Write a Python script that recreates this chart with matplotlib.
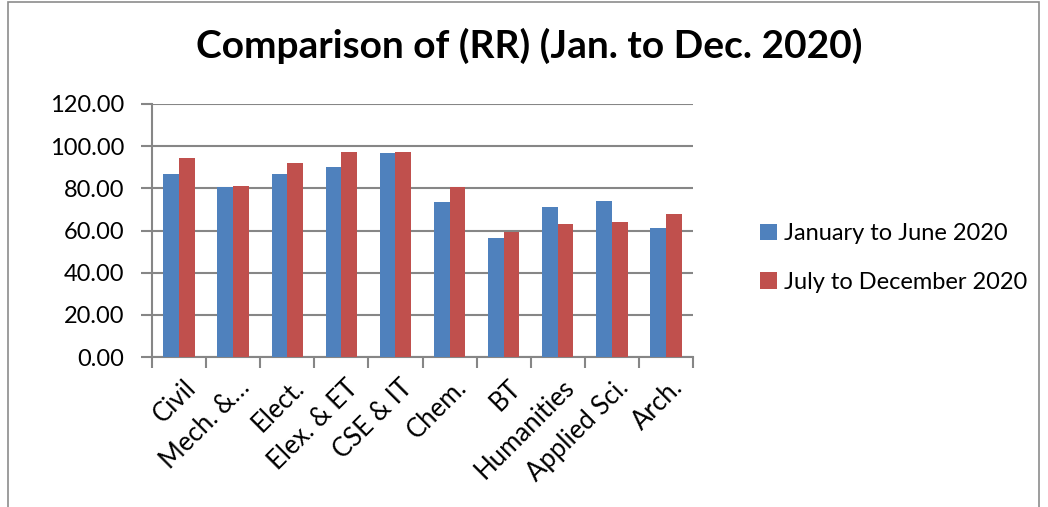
import numpy as np
import matplotlib
matplotlib.use('Agg')
import matplotlib.pyplot as plt
from matplotlib.patches import Patch, Rectangle
import matplotlib.ticker as ticker
import matplotlib.transforms as mtransforms

plt.rcParams['font.family'] = ['Lato', 'DejaVu Sans']

# Data
categories = ['Civil', 'Mech. &…', 'Elect.', 'Elex. & ET', 'CSE & IT',
              'Chem.', 'BT', 'Humanities', 'Applied Sci.', 'Arch.']
jan_jun = [87.0, 80.6, 87.0, 90.3, 96.8, 73.3, 56.5, 71.3, 74.0, 61.1]
jul_dec = [94.6, 81.1, 92.1, 97.3, 97.3, 80.6, 59.4, 62.9, 64.1, 67.6]
series_names = ['January to June 2020', 'July to December 2020']

blue = '#4F81BD'
red = '#C0504D'
grid_c = '#868686'

W, H = 1048, 507
fig = plt.figure(figsize=(W / 100, H / 100), dpi=100)

# outer chart frame
fig.patches.append(Rectangle((8 / W, -0.02), (1039 - 8) / W, 1 - 2 / H + 0.02,
                             transform=fig.transFigure, fill=False,
                             edgecolor='#8c8c8c', lw=1.2))

ax = fig.add_axes([152 / W, 1 - 357 / H, (693 - 152) / W, (357 - 104) / H])

x = np.arange(len(categories))
bw = 0.29
ax.bar(x - bw / 2, jan_jun, width=bw, color=blue, zorder=3)
ax.bar(x + bw / 2, jul_dec, width=bw, color=red, zorder=3)

ax.set_xlim(-0.5, len(categories) - 0.5)
ax.set_ylim(0, 120)
ax.yaxis.set_major_locator(ticker.MultipleLocator(20))
ax.yaxis.set_major_formatter(ticker.FormatStrFormatter('%.2f'))
ax.grid(axis='y', color=grid_c, lw=1.5, zorder=0)

# category boundary ticks
ax.set_xticks(np.arange(len(categories) + 1) - 0.5, minor=False)
ax.set_xticklabels([])
ax.set_xticks(x, minor=True)
ax.set_xticklabels(categories, minor=True, rotation=45, ha='right',
                   rotation_mode='anchor', fontsize=18.5)
ax.tick_params(axis='x', which='minor', length=0, pad=13)
ax.tick_params(axis='x', which='major', length=8, color=grid_c, width=1.5, direction='out')
ax.tick_params(axis='y', length=8, color=grid_c, width=1.5, labelsize=17, pad=12)

# nudge the rotated labels a little to the right
shift = mtransforms.ScaledTranslation(4 / 100, 0, fig.dpi_scale_trans)
for lbl in ax.get_xticklabels(minor=True):
    lbl.set_transform(lbl.get_transform() + shift)

for s in ['top', 'right']:
    ax.spines[s].set_visible(False)
for s in ['left', 'bottom']:
    ax.spines[s].set_color(grid_c)
    ax.spines[s].set_linewidth(1.5)

fig.text(0.505, 0.91, 'Comparison of (RR) (Jan. to Dec. 2020)', ha='center', va='center',
         fontsize=28, fontweight='bold')

handles = [Patch(facecolor=blue), Patch(facecolor=red)]
fig.legend(handles, series_names, loc='center left', bbox_to_anchor=(760 / W, 1 - 258 / H),
           frameon=False, fontsize=17, handlelength=0.7, handleheight=0.7,
           handletextpad=0.3, labelspacing=1.15, borderaxespad=0, borderpad=0)

fig.savefig('out.png', dpi=100)
